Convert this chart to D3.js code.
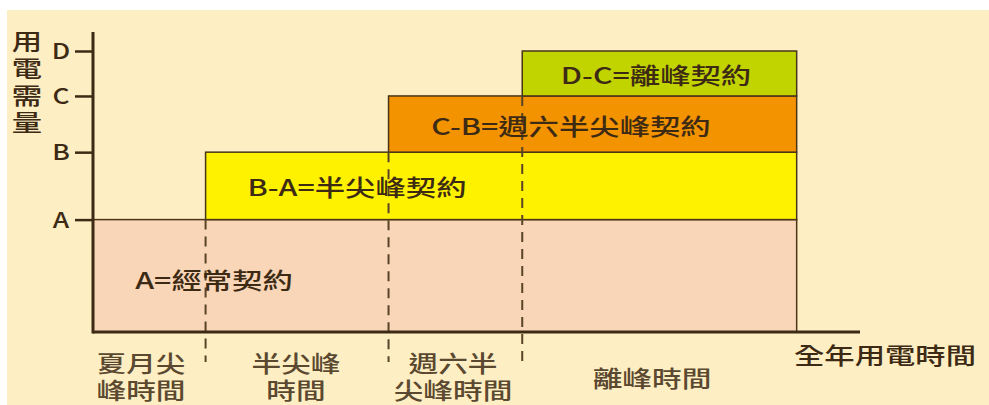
<!DOCTYPE html>
<html><head><meta charset="utf-8">
<script src="https://cdn.jsdelivr.net/npm/d3@7"></script>
<style>html,body{margin:0;padding:0;background:#fff;}svg{display:block;}</style>
</head><body>
<svg id="c" width="989" height="405"></svg>
<script>
// ---- data ----
const levels = ["A", "B", "C", "D"];
const levelValues = [40, 64, 84, 100];
const contracts = ["A=經常契約", "B-A=半尖峰契約", "C-B=週六半尖峰契約", "D-C=離峰契約"];
const contractStart = [0, 16, 42, 61];          // time at which each contract block begins
const periodBounds = [0, 16, 42, 61, 100];      // boundaries of the time periods
const periodLabels = [["夏月尖", "峰時間"], ["半尖峰", "時間"], ["週六半", "尖峰時間"], ["離峰時間"]];
const yTitle = "用電需量";
const xTitle = "全年用電時間";
const timeMax = 109;

// ---- layout / style ----
const fills = ["#f9d6b7", "#fff200", "#f39300", "#c2d400"];
const ink = "#3d2a14";
const FONT = "'Noto Sans CJK TC','Noto Sans CJK SC',sans-serif";
const SX = 1.32;

const svg = d3.select("#c");
svg.append("rect").attr("x", 7).attr("y", 10).attr("width", 982).attr("height", 395).attr("fill", "#fdefc3");

const x = d3.scaleLinear().domain([0, timeMax]).range([93, 860]);
const y = d3.scaleLinear().domain([0, 100]).range([332, 51]);

function label(g, tx, ty, txt, size, color) {
  return g.append("text")
    .attr("transform", `translate(${tx},${ty}) scale(${SX},1)`)
    .attr("text-anchor", "middle").attr("dominant-baseline", "central")
    .attr("font-family", FONT).attr("font-size", size).attr("font-weight", 500).attr("fill", color)
    .text(txt);
}

// contract blocks
const blocks = levels.map((l, i) => ({
  x0: contractStart[i], x1: periodBounds[periodBounds.length - 1],
  y0: i === 0 ? 0 : levelValues[i - 1], y1: levelValues[i], fill: fills[i], name: contracts[i]
}));
svg.append("g").selectAll("rect").data(blocks).join("rect")
  .attr("x", d => x(d.x0)).attr("y", d => y(d.y1))
  .attr("width", d => x(d.x1) - x(d.x0)).attr("height", d => y(d.y0) - y(d.y1))
  .attr("fill", d => d.fill).attr("stroke", "#4a3418").attr("stroke-width", 1.5);

// dashed period boundaries
svg.append("g").selectAll("line").data(periodBounds.slice(1, -1)).join("line")
  .attr("x1", d => x(d)).attr("x2", d => x(d))
  .attr("y1", (d, i) => y(levelValues[i])).attr("y2", 362)
  .attr("stroke", "#5a4428").attr("stroke-width", 2).attr("stroke-dasharray", "10,7");

// axes
const yAxis = d3.axisLeft(y).tickValues(levelValues).tickFormat((d, i) => levels[i]).tickSize(18).tickPadding(6);
const gy = svg.append("g").attr("transform", `translate(${x(0)},0)`).call(yAxis);
gy.select(".domain").remove();
gy.selectAll(".tick line").attr("stroke", ink).attr("stroke-width", 2.5);
gy.selectAll(".tick text").attr("font-family", FONT).attr("font-size", 22).attr("font-weight", 500).attr("fill", ink)
  .attr("text-anchor", "middle").attr("x", -32).attr("dy", "0.35em")
  .attr("style", `transform-box:fill-box;transform-origin:center;transform:scaleX(1.2)`);

svg.append("line").attr("x1", x(0)).attr("x2", x(0)).attr("y1", 32).attr("y2", y(0) + 1.5)
  .attr("stroke", ink).attr("stroke-width", 3);
svg.append("line").attr("x1", x(0)).attr("x2", x(timeMax)).attr("y1", y(0)).attr("y2", y(0))
  .attr("stroke", ink).attr("stroke-width", 3);

// contract labels
const contractPos = [[214, 279], [357, 186], [571, 125], [656, 74]];
const lg = svg.append("g");
contracts.forEach((c, i) => label(lg, contractPos[i][0], contractPos[i][1], c, 23, ink));

// period labels (one text per period, lines as tspans)
const periodX = [141, 296, 453, 652];
periodLabels.forEach((lines, i) => {
  const t = label(lg, periodX[i], lines.length === 1 ? 377 : 362, "", 22.5, "#5b4830");
  lines.forEach((s, j) => t.append("tspan").attr("x", 0).attr("dy", j === 0 ? 0 : 27).text(s));
});

// axis titles
lg.append("text")
  .attr("transform", `translate(27,30) scale(${SX},1)`)
  .attr("style", "writing-mode:vertical-rl;letter-spacing:4px")
  .attr("text-anchor", "start").attr("font-family", FONT).attr("font-size", 23).attr("font-weight", 500)
  .attr("fill", ink).text(yTitle);
label(lg, 885, 354, xTitle, 23, ink);
</script>
</body></html>
